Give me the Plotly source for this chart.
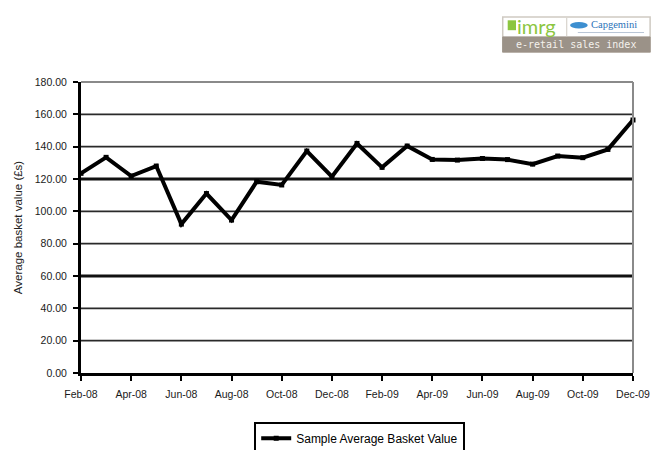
import plotly.graph_objects as go

# Monthly sample average basket value, Feb 2008 - Dec 2009
months = ["Feb-08", "Mar-08", "Apr-08", "May-08", "Jun-08", "Jul-08", "Aug-08",
          "Sep-08", "Oct-08", "Nov-08", "Dec-08", "Jan-09", "Feb-09", "Mar-09",
          "Apr-09", "May-09", "Jun-09", "Jul-09", "Aug-09", "Sep-09", "Oct-09",
          "Nov-09", "Dec-09"]
basket_value = [123.5, 133.4, 121.8, 128.0, 92.1, 111.0, 94.6,
                118.3, 116.3, 137.3, 121.4, 142.0, 127.2, 140.4,
                132.1, 131.7, 132.7, 132.0, 129.2, 134.2, 133.2,
                138.3, 156.5]
y_ticks = [0, 20, 40, 60, 80, 100, 120, 140, 160, 180]
heavy_grid = [60, 120]
light_grid = [20, 40, 80, 100, 140, 160]

x_idx = list(range(len(months)))
tick_idx = x_idx[::2]
tick_text = months[::2]

FONT = "Liberation Sans, Arial, sans-serif"

fig = go.Figure()
fig.add_trace(go.Scatter(
    x=x_idx, y=basket_value, mode="lines+markers",
    name="Sample Average Basket Value",
    line=dict(color="black", width=4),
    marker=dict(symbol="square", size=5, color="black"),
    cliponaxis=False,
))

shapes = []
for g in light_grid:
    shapes.append(dict(type="line", xref="paper", x0=0, x1=1, yref="y", y0=g, y1=g,
                       line=dict(color="#2a2a2a", width=1.6), layer="below"))
for g in heavy_grid:
    shapes.append(dict(type="line", xref="paper", x0=0, x1=1, yref="y", y0=g, y1=g,
                       line=dict(color="#111111", width=3.2), layer="below"))
# grey frame on top and right
shapes.append(dict(type="line", xref="paper", x0=0, x1=1, yref="paper", y0=1, y1=1,
                   line=dict(color="#8a8a8a", width=2)))
shapes.append(dict(type="line", xref="paper", x0=1, x1=1, yref="paper", y0=0, y1=1,
                   line=dict(color="#8a8a8a", width=2)))

# e-retail sales index badge (top right)
shapes += [
    dict(type="rect", xref="paper", yref="paper", x0=0.764, x1=1.031, y0=1.103, y1=1.223,
         line=dict(color="#cfcac2", width=1.5), fillcolor="white", layer="above"),
    dict(type="rect", xref="paper", yref="paper", x0=0.764, x1=1.031, y0=1.103, y1=1.155,
         line=dict(color="#9b9288", width=1), fillcolor="#9b9288", layer="above"),
    dict(type="line", xref="paper", yref="paper", x0=0.880, x1=0.880, y0=1.157, y1=1.220,
         line=dict(color="#cfcac2", width=1)),
    dict(type="rect", xref="paper", yref="paper", x0=0.773, x1=0.788, y0=1.178, y1=1.212,
         line=dict(width=0), fillcolor="#8cc63f"),
    dict(type="circle", xref="paper", yref="paper", x0=0.886, x1=0.918, y0=1.184, y1=1.206,
         line=dict(width=0), fillcolor="#3d8fd0"),
    dict(type="line", xref="paper", yref="paper", x0=0.900, x1=1.02, y0=1.170, y1=1.170,
         line=dict(color="#b9c6d6", width=1)),
]

annotations = [
    dict(text="imrg", xref="paper", yref="paper", x=0.787, y=1.193, xanchor="left",
         yanchor="middle", showarrow=False,
         font=dict(family="Lato, sans-serif", size=20, color="#8cc63f")),
    dict(text="Capgemini", xref="paper", yref="paper", x=0.921, y=1.197, xanchor="left",
         yanchor="middle", showarrow=False,
         font=dict(family="Liberation Serif, serif", size=10.5, color="#2a72b8")),
    dict(text="e-retail sales index", xref="paper", yref="paper",
         x=0.8975, y=1.129, xanchor="center", yanchor="middle", showarrow=False,
         font=dict(family="DejaVu Sans Mono, monospace", size=10, color="#f4f1ec")),
]

fig.update_layout(
    width=654, height=450,
    margin=dict(l=81, r=21, t=82, b=77, autoexpand=False),
    paper_bgcolor="white", plot_bgcolor="white",
    font=dict(family=FONT, color="black"),
    showlegend=True,
    legend=dict(orientation="h", x=0.55, xref="container", xanchor="center",
                y=0.063, yref="container", yanchor="top",
                bordercolor="black", borderwidth=2, bgcolor="white",
                font=dict(family=FONT, size=12, color="black"),
                itemwidth=30),
    xaxis=dict(range=[0, len(months) - 1], tickmode="array", tickvals=tick_idx,
               ticktext=tick_text, showgrid=False, zeroline=False, automargin=False,
               showline=True, linecolor="black", linewidth=3,
               ticks="outside", ticklen=5, tickwidth=2, tickcolor="black",
               ticklabelstandoff=4,
               tickfont=dict(family=FONT, size=10.5, color="#1a1a1a")),
    yaxis=dict(range=[0, 180], tickmode="array", tickvals=y_ticks, automargin=False,
               ticktext=[f"{v:.2f}" for v in y_ticks], showgrid=False,
               zeroline=False, showline=True, linecolor="black", linewidth=3,
               ticks="outside", ticklen=5, tickwidth=2, tickcolor="black",
               ticklabelstandoff=4,
               tickfont=dict(family=FONT, size=10.5, color="#1a1a1a"),
               title=dict(text="Average basket value (£s)", standoff=10,
                          font=dict(family=FONT, size=11.5, color="#222"))),
    shapes=shapes,
    annotations=annotations,
)

fig.write_html("out.html")
